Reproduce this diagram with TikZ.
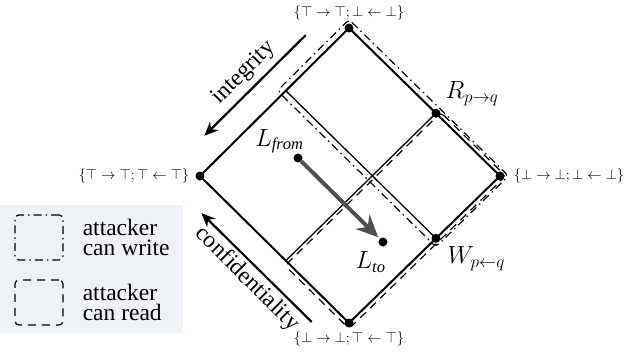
\documentclass[tikz,border=0pt]{standalone}
\usepackage{fontspec}
\setmainfont{Liberation Serif}[Extension=.ttf, UprightFont=LiberationSerif-Regular,
  ItalicFont=LiberationSerif-Italic, BoldFont=LiberationSerif-Bold]
\usetikzlibrary{arrows.meta,positioning,calc}
\definecolor{legendbg}{HTML}{EEF2F6}
\definecolor{flowgray}{HTML}{505050}
\tikzset{
  latticedot/.style={circle, fill=black, inner sep=0pt, minimum size=9pt},
  edgeline/.style={line width=2pt},
  splitline/.style={line width=1.3pt},
  canwrite/.style={line width=1.2pt, dash pattern=on 8pt off 4pt on 1.5pt off 4pt,
    rounded corners=4pt},
  canread/.style={line width=1.2pt, dash pattern=on 8pt off 6pt, rounded corners=4pt},
  dirarrow/.style={-{Stealth[length=14pt,width=12pt]}, line width=2.2pt},
  flowarrow/.style={-{Stealth[length=22pt,width=20pt]}, line width=4pt, color=flowgray},
  lvlabel/.style={font=\fontsize{15.3}{17}\selectfont, inner sep=0pt},
  biglabel/.style={font=\fontsize{23.5}{20}\selectfont, inner sep=0pt},
  legendtext/.style={biglabel, align=left, anchor=west},
  keybox/.style={draw, minimum width=48pt, minimum height=45pt, inner sep=0pt},
  legendbox/.style={fill=legendbg, minimum width=183pt, minimum height=128pt,
    inner sep=0pt, anchor=north west},
}
\begin{document}
\begin{tikzpicture}[x=1pt, y=-1pt, node distance=6pt]
  \useasboundingbox (0,0) rectangle (631,362);

  % legend
  \node[legendbox] (legend) at (0,205) {};
  \node[keybox, canwrite] (wkey) at (39,237.5) {};
  \node[legendtext, right=19pt of wkey] (wtext) {attacker\\can write};
  \node[keybox, canread] (rkey) at (39,302.5) {};
  \node[legendtext, right=19pt of rkey] (rtext) {attacker\\can read};

  % lattice
  \node[latticedot] (top) at (349,28) {};
  \node[latticedot] (rgt) at (500,176) {};
  \node[latticedot] (bot) at (349,323) {};
  \node[latticedot] (lft) at (200,176) {};
  \node[latticedot] (R) at ($(top)!0.576!(rgt)$) {};
  \node[latticedot] (W) at ($(bot)!0.576!(rgt)$) {};
  \coordinate (Q) at ($(lft)!0.576!(top)$);
  \coordinate (P) at ($(lft)!0.576!(bot)$);

  \draw[canwrite] ($(top)+(0,-8.5)$) -- ($(rgt)+(8.5,0)$) -- ($(W)+(0,8.5)$)
    -- ($(Q)+(-8.5,0)$) -- cycle;
  \draw[canread] ($(R)+(4.9,-0.7)$) -- ($(rgt)+(5.7,0)$) -- ($(bot)+(0,5.7)$)
    -- ($(P)+(-0.7,4.9)$) -- cycle;

  \draw[edgeline] (top.center) -- (rgt.center) -- (bot.center) -- (lft.center) -- cycle;
  \draw[splitline] (R.center) -- (P);
  \draw[splitline] (W.center) -- (Q);

  \node[lvlabel, above=3pt of top] (toplab) {$\{\top\rightarrow\top;\bot\leftarrow\bot\}$};
  \node[lvlabel, left=6pt of lft] (lftlab) {$\{\top\rightarrow\top;\top\leftarrow\top\}$};
  \node[lvlabel, right=9pt of rgt] (rgtlab) {$\{\bot\rightarrow\bot;\bot\leftarrow\bot\}$};
  \node[lvlabel, below=4pt of bot] (botlab) {$\{\bot\rightarrow\bot;\top\leftarrow\top\}$};

  \node[biglabel, above right=4pt and 6pt of R] (Rlab) {$R_{p\rightarrow q}$};
  \node[biglabel, below right=5pt and 8pt of W] (Wlab) {$W_{p\leftarrow q}$};

  % flow
  \node[latticedot] (Lfrom) at (298,158) {};
  \node[latticedot] (Lto) at (383,242) {};
  \draw[flowarrow, shorten >=2pt] (Lfrom) -- (Lto);
  \node[biglabel, above left=1pt and -9pt of Lfrom] (Lfromlab) {$L_{\mathit{from}}$};
  \node[biglabel, below left=6pt and -6pt of Lto] (Ltolab) {$L_{\mathit{to}}$};

  % directions
  \coordinate (intfrom) at ($(top)!0.17!(lft)+(-18,-18)$);
  \coordinate (intto) at ($(top)!0.85!(lft)+(-18,-18)$);
  \draw[dirarrow] (intfrom) -- (intto);
  \node[biglabel, rotate=45] (intlab) at (244,73) {integrity};
  \coordinate (confrom) at ($(lft)!0.87!(bot)+(-18,18)$);
  \coordinate (conto) at ($(lft)!0.13!(bot)+(-18,18)$);
  \draw[dirarrow] (confrom) -- (conto);
  \node[biglabel, rotate=-45] (conflab) at (247,279) {confidentiality};
\end{tikzpicture}
\end{document}
